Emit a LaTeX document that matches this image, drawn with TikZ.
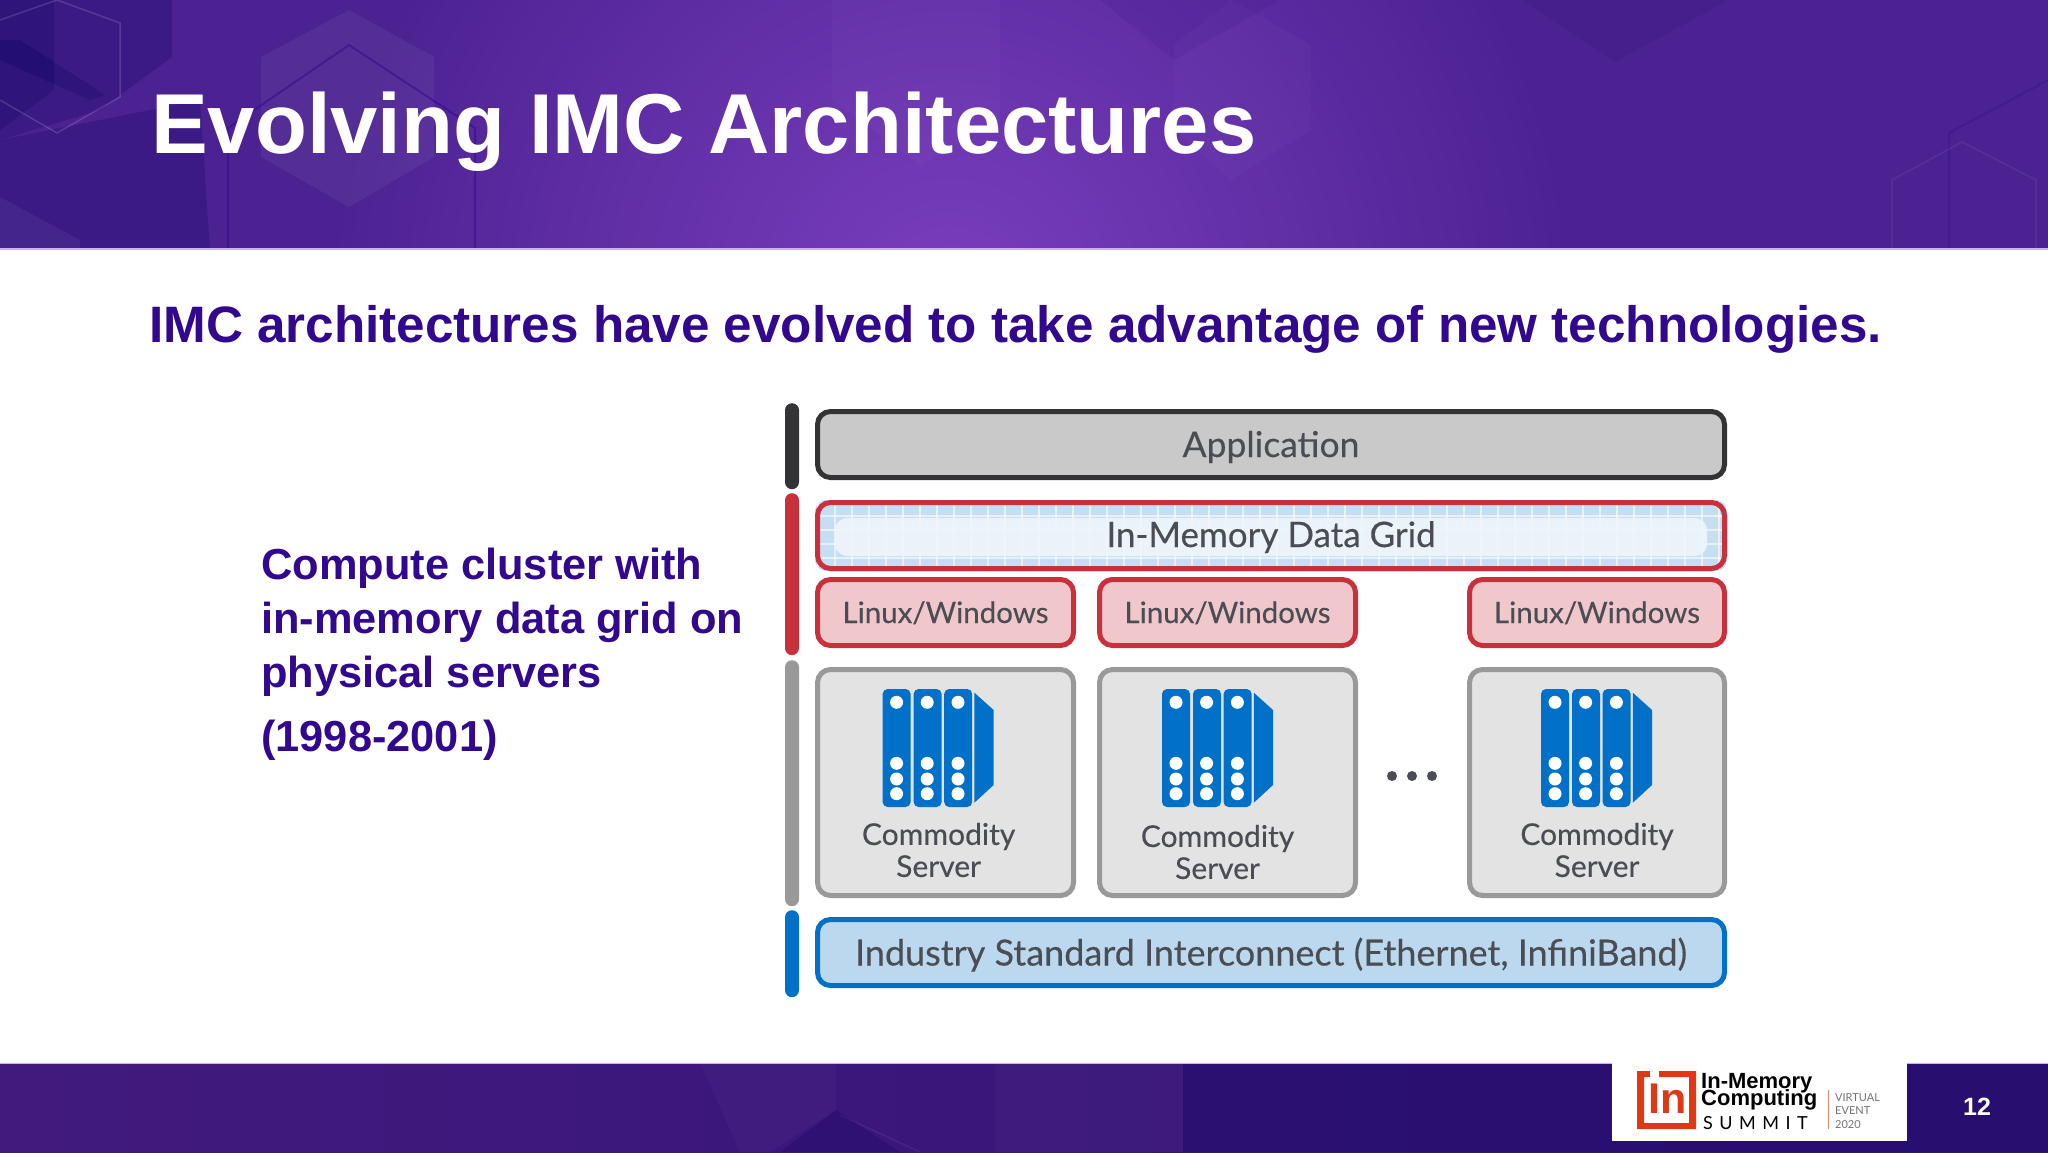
\documentclass[tikz,border=0pt]{standalone}
\usepackage{fontspec}
\usepackage{xcolor}
\usepackage{tikz}
\usetikzlibrary{backgrounds}
\usetikzlibrary{positioning}
\setmainfont{Liberation Sans}
\newfontfamily\boxfont{Lato}[FakeBold=0.3]
\newfontfamily\thinfont{Lato}
\definecolor{myink}{RGB}{74,78,84}
\definecolor{myindigo}{RGB}{50,8,143}
\definecolor{mydark}{RGB}{51,51,53}
\definecolor{myred}{RGB}{200,48,60}
\definecolor{mypink}{RGB}{240,200,204}
\definecolor{mygrey}{RGB}{153,153,153}
\definecolor{myblue}{RGB}{0,112,200}
\definecolor{mysky}{RGB}{188,216,238}
\definecolor{mycell}{RGB}{198,222,242}
\definecolor{mymist}{RGB}{238,245,251}
\definecolor{mylogo}{RGB}{224,56,20}
\definecolor{myglow}{RGB}{122,62,190}
\definecolor{myviolet}{RGB}{76,34,146}
\definecolor{mylilac}{RGB}{205,175,232}
\pgfdeclareradialshading{headerglow}{\pgfpoint{0bp}{0bp}}{color(0bp)=(myglow); color(25bp)=(myviolet); color(50bp)=(myviolet)}
\tikzset{
    layerbox/.style={draw, line width=5pt, rounded corners=13pt, inner sep=0pt, text=myink},
    appbox/.style={layerbox, draw=mydark, fill=black!21, minimum width=907pt, minimum height=66pt,
            text height=29pt, text depth=4pt, font=\boxfont\fontsize{35.5}{35.5}\selectfont},
    gridbox/.style={layerbox, draw=myred, minimum width=907pt, minimum height=66pt},
    gridtext/.style={inner sep=0pt, text=myink, text height=27pt, text depth=4pt,
            font=\boxfont\fontsize{35}{35}\selectfont},
    osbox/.style={layerbox, draw=myred, fill=mypink, minimum height=66pt,
            text height=25pt, text depth=4pt, font=\boxfont\fontsize{29.5}{29.5}\selectfont},
    serverbox/.style={layerbox, draw=mygrey, fill=black!11, minimum width=256pt, minimum height=226pt},
    netbox/.style={layerbox, draw=myblue, fill=mysky, minimum width=907pt, minimum height=66pt,
            text height=30pt, text depth=4pt, font=\boxfont\fontsize{36}{36}\selectfont},
    stackbar/.style={minimum width=14pt, inner sep=0pt, rounded corners=7pt, anchor=north},
    serverlabel/.style={align=center, inner sep=0pt, text=myink,
            font=\boxfont\fontsize{30}{32}\selectfont},
    hexpale/.style={fill=white, fill opacity=0.05},
    hexfaint/.style={fill=white, fill opacity=0.025},
    hexdark/.style={fill=black!30!blue!50!black, fill opacity=0.22},
    hexshade/.style={fill=black!30!blue!50!black, fill opacity=0.07},
    hexline/.style={draw=white, draw opacity=0.14, line width=1.5pt},
    hexdeep/.style={draw=myindigo, draw opacity=0.5, line width=2pt},
    pics/rack/.style={code={
                \foreach \cx in {0,31,61.6}{
                        \fill[myblue, rounded corners=5pt] (\cx,0) rectangle ++(28,118);
                    }
                \fill[myblue] (91.8,3.7) -- (111,21) -- (111,96) -- (91.8,113.7) -- cycle;
                \foreach \cx in {14,44.6,75.4}{
                        \foreach \cy in {13.3,74.3,90,104.7}{
                                \fill[white] (\cx,\cy) circle (6.5pt);
                            }
                    }
            }},
}

\begin{document}
\begin{tikzpicture}[x=1pt,y=-1pt]
    \useasboundingbox (0,0) rectangle (2048,1152);

    \begin{pgfonlayer}{background}
        \fill[white] (0,0) rectangle (2048,1152);

        % header band
        \begin{scope}
            \clip (0,0) rectangle (2048,248.5);
            \fill[myviolet] (0,0) rectangle (2048,250);
            \shade[shading=headerglow] (950,300) circle (620pt);
            \fill[hexdark] (0,0) -- (172,0) -- (172,57) -- (100,110) -- (0,140) -- cycle;
            \fill[hexdark] (0,0) -- (54,0) -- (54,90) -- (0,130) -- cycle;
            \fill[hexdark] (0,40) -- (20,40) -- (105,95) -- (90,100) -- (0,60) -- cycle;
            \fill[hexdark] (0,140) -- (200,100) -- (210,250) -- (0,250) -- cycle;
            \draw[hexline] (0,20) -- (57,0) -- (120,23) -- (120,97) -- (57,133) -- (0,100);
            \fill[hexpale] (349,10) -- (434,57) -- (434,157) -- (349,207) -- (261,157) -- (261,57) -- cycle;
            \fill[hexpale] (0,197) -- (80,240) -- (80,250) -- (0,250) -- cycle;
            \fill[hexfaint] (832,0) -- (1000,0) -- (1000,120) -- (920,165) -- (832,100) -- cycle;
            \fill[hexfaint] (1231,0) -- (1311,45) -- (1311,130) -- (1231,180) -- (1174,130) -- (1174,45) -- cycle;
            \fill[hexshade] (1100,0) -- (1280,0) -- (1174,60) -- cycle;
            \fill[hexshade] (1521,0) -- (1729,0) -- (1615,62) -- cycle;
            \draw[hexdeep] (228,250) -- (228,128) -- (349,45) -- (475,128) -- (475,250);
            \draw[hexdeep, draw opacity=0.3] (1949,250) -- (1949,133) -- (2048,80);
            \draw[hexline, draw opacity=0.06] (1892,250) -- (1892,180) -- (1962,142) -- (2036,180) -- (2036,250);
        \end{scope}
        \fill[mylilac] (0,248) rectangle (2048,250);

        % footer band
        \begin{scope}
            \clip (0,1064) rectangle (2048,1152);
            \shade[left color={rgb,255:red,66;green,26;blue,126}, right color={rgb,255:red,50;green,18;blue,118}]
            (0,1063) rectangle (2048,1152);
            \fill[hexfaint] (700,1063) -- (836,1063) -- (836,1110) -- (770,1152) -- (740,1152) -- cycle;
            \fill[hexfaint] (995,1063) -- (1183,1063) -- (1183,1152) -- (995,1152) -- cycle;
            \draw[hexline, draw opacity=0.06] (840,1115) -- (920,1152);
            \fill[hexdark] (1183,1063) -- (2048,1063) -- (2048,1152) -- (1183,1152) -- cycle;
            \fill[hexdark] (780,1152) -- (836,1110) -- (900,1152) -- cycle;
        \end{scope}
        \fill[mylilac] (0,1062.5) rectangle (2048,1064);
        \fill[white] (1612,1063) rectangle (1907,1141);
    \end{pgfonlayer}

    % ------------------

    \node[anchor=base west, inner sep=0pt, text=white, font=\bfseries\fontsize{85}{85}\selectfont]
    (title) at (151,153) {Evolving IMC Architectures};

    \node[anchor=base west, inner sep=0pt, text=myindigo, font=\bfseries\fontsize{51.2}{51.2}\selectfont]
    (subtitle) at (149,342) {IMC architectures have evolved to take advantage of new technologies.};

    \node[anchor=north west, inner sep=0pt, align=left, text=myindigo, font=\bfseries\fontsize{43.4}{54}\selectfont]
    (note) at (261,548) {Compute cluster with\\in-memory data grid on\\physical servers\\[10pt](1998-2001)};

    % ------------------

    % layers, top to bottom
    \node[appbox, anchor=north west] (app) at (815,409) {Application};
    \node[gridbox, below = 20pt of app] (grid) {};

    \begin{scope}
        \clip[rounded corners=11pt] (grid.north west) rectangle (grid.south east);
        \fill[mycell] (grid.north west) rectangle (grid.south east);
        \foreach \i in {0,...,54}{
                \draw[white, draw opacity=0.55, line width=1.5pt] (818+17*\i,500) -- (818+17*\i,571);
            }
        \foreach \j in {0,...,3}{
                \draw[white, draw opacity=0.55, line width=1.5pt] (815,516+\j*14) -- (1727,516+\j*14);
            }
        \fill[mymist, fill opacity=0.93, rounded corners=12pt] (835,518) rectangle (1707,556);
    \end{scope}
    \draw[myred, line width=5pt, rounded corners=13pt] (817.5,502.5) rectangle (1724.5,568.5);
    \node[gridtext] (gridlabel) at (grid) {In-Memory Data Grid};

    \node[osbox, minimum width=256pt, below = 6pt of grid.south west, anchor=north west] (os1) {Linux/Windows};
    \node[osbox, minimum width=256pt, right = 21pt of os1] (os2) {Linux/Windows};
    \node[osbox, minimum width=255pt, right = 109pt of os2] (os3) {Linux/Windows};

    \node[serverbox, below = 19pt of os1] (srv1) {};
    \node[serverbox, right = 21pt of srv1] (srv2) {};
    \node[serverbox, minimum width=255pt, right = 109pt of srv2] (srv3) {};

    \pic at (882.6,689) {rack};
    \pic at (1162,689) {rack};
    \pic at (1541,689) {rack};

    \node[serverlabel] (srv1text) at (938.6,850) {Commodity\\Server};
    \node[serverlabel] (srv2text) at (1217.5,852) {Commodity\\Server};
    \node[serverlabel] (srv3text) at (1597,850) {Commodity\\Server};

    \foreach \dx in {1392,1412,1432}{
            \fill[myink] (\dx,776) circle (5pt);
        }

    \node[netbox, below = 19pt of srv1.south west, anchor=north west] (net)
    {Industry Standard Interconnect (Ethernet, InfiniBand)};

    % side bars
    \node[stackbar, fill=mydark, minimum height=86pt] (barapp) at (792,403) {};
    \node[stackbar, fill=myred, minimum height=162pt] (barimc) at (792,493) {};
    \node[stackbar, fill=mygrey, minimum height=246pt] (barsrv) at (792,660) {};
    \node[stackbar, fill=myblue, minimum height=87pt] (barnet) at (792,910) {};

    % ------------------

    % logo
    \fill[mylogo, even odd rule] (1637,1071) rectangle (1696,1129) (1644,1077) rectangle (1689,1123);
    \fill[white] (1650,1070) rectangle (1659,1078);
    \node[inner sep=0pt, text=mylogo, font=\bfseries\fontsize{43}{43}\selectfont] (logoin) at (1668,1099) {In};
    \node[anchor=base west, inner sep=0pt, text=black, font=\bfseries\fontsize{22}{22}\selectfont] (logoa) at (1701,1088) {In-Memory};
    \node[anchor=base west, inner sep=0pt, text=black, font=\bfseries\fontsize{22}{22}\selectfont] (logob) at (1701,1105) {Computing};
    \node[anchor=base west, inner sep=0pt, text=black, font=\thinfont\fontsize{18}{18}\selectfont] (logoc) at (1703,1129)
    {S\hspace{6.5pt}U\hspace{6.5pt}M\hspace{6.5pt}M\hspace{6.5pt}I\hspace{6.5pt}T};
    \draw[mylogo!60, line width=1pt] (1828,1090) -- (1828,1129);
    \node[anchor=base west, inner sep=0pt, text=black!55, font=\thinfont\fontsize{11}{11}\selectfont] (logod) at (1835,1101) {VIRTUAL};
    \node[anchor=base west, inner sep=0pt, text=black!55, font=\thinfont\fontsize{11}{11}\selectfont] (logoe) at (1835,1114) {EVENT};
    \node[anchor=base west, inner sep=0pt, text=black!55, font=\thinfont\fontsize{11}{11}\selectfont] (logof) at (1835,1128) {2020};

    \node[inner sep=0pt, text=white, font=\bfseries\fontsize{25}{25}\selectfont] (pageno) at (1977,1107) {12};
\end{tikzpicture}
\end{document}
